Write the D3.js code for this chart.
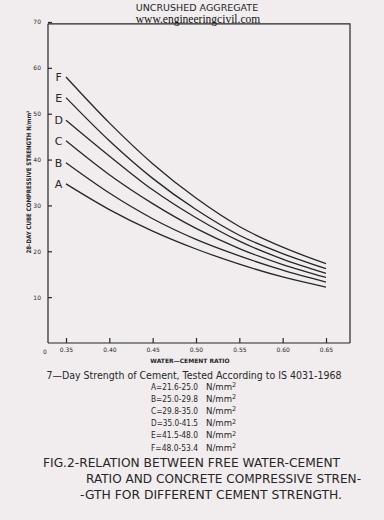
<!DOCTYPE html>
<html>
<head>
<meta charset="utf-8">
<script src="https://cdn.jsdelivr.net/npm/d3@7"></script>
<style>
  html, body { margin: 0; padding: 0; background: #f1edee; }
  svg { display: block; }
</style>
</head>
<body>
<div id="chart"></div>
<script>
// --- data ---
const ratios = [0.35, 0.40, 0.45, 0.50, 0.55, 0.60, 0.65];
const curveA = [34.7, 29.1, 24.4, 20.5, 17.2, 14.4, 12.2];
const curveB = [39.3, 32.7, 27.1, 22.6, 19.0, 15.9, 13.3];
const curveC = [44.1, 36.7, 30.4, 25.0, 20.6, 17.1, 14.3];
const curveD = [48.6, 40.8, 33.4, 27.3, 22.2, 18.3, 15.2];
const curveE = [53.5, 44.1, 35.9, 29.1, 23.5, 19.5, 16.2];
const curveF = [58.0, 48.0, 39.1, 31.6, 25.4, 20.9, 17.3];
const curveNames = ["A", "B", "C", "D", "E", "F"];
const yTicks = [10, 20, 30, 40, 50, 60, 70];
const xTicks = [0.35, 0.40, 0.45, 0.50, 0.55, 0.60, 0.65];
const legendRows = [
  "A=21.6-25.0", "B=25.0-29.8", "C=29.8-35.0",
  "D=35.0-41.5", "E=41.5-48.0", "F=48.0-53.4"
];
const captionRows = [
  "FIG.2-RELATION BETWEEN FREE WATER-CEMENT",
  "RATIO AND CONCRETE  COMPRESSIVE STREN-",
  "-GTH FOR DIFFERENT CEMENT STRENGTH."
];

const W = 384, H = 520;
const ink = "#262626";
const font = "'DejaVu Sans', sans-serif";

const svg = d3.select("#chart").append("svg")
  .attr("width", W).attr("height", H);

// scales (pixel range matched to the scanned frame)
const x = d3.scaleLinear().domain([0.35, 0.65]).range([66, 326]);
const y = d3.scaleLinear().domain([0, 70]).range([343, 22]);
const fLeft = 48, fRight = 350, fTop = y(69.6), fBottom = y(0);

// --- header ---
svg.append("text")
  .attr("x", 197).attr("y", 10.5)
  .attr("text-anchor", "middle")
  .attr("font-family", font).attr("font-size", 9.5)
  .attr("fill", ink)
  .text("UNCRUSHED AGGREGATE");

svg.append("text")
  .attr("x", 198).attr("y", 23.2)
  .attr("text-anchor", "middle")
  .attr("font-family", "'Liberation Serif', serif").attr("font-size", 11.5)
  .attr("fill", "#111")
  .text("www.engineeringcivil.com");

// --- frame ---
svg.append("path")
  .attr("d", `M${fLeft},${fTop}H${fRight}V${fBottom}`)
  .attr("fill", "none").attr("stroke", ink).attr("stroke-width", 1.2);

// axes
const gx = svg.append("g")
  .attr("transform", `translate(0,${fBottom})`)
  .call(d3.axisBottom(x).tickValues(xTicks).tickSizeInner(-5).tickSizeOuter(0)
    .tickPadding(5).tickFormat(d3.format(".2f")));
gx.select(".domain").attr("d", `M${fLeft},0H${fRight}`);

const gy = svg.append("g")
  .attr("transform", `translate(${fLeft},0)`)
  .call(d3.axisLeft(y).tickValues(yTicks).tickSizeInner(-4).tickSizeOuter(0)
    .tickPadding(7));
gy.select(".domain").attr("d", `M0,${fTop}V${fBottom}`);

[gx, gy].forEach(g => {
  g.attr("color", ink);
  g.selectAll(".domain, line").attr("stroke", ink).attr("stroke-width", 1.2);
  g.selectAll("text").attr("font-family", font).attr("font-size", 6)
    .attr("fill", ink);
});

// origin "0"
svg.append("text")
  .attr("x", 45).attr("y", fBottom + 10.5)
  .attr("text-anchor", "middle")
  .attr("font-family", font).attr("font-size", 6).attr("fill", ink)
  .text("0");

// axis titles
svg.append("text")
  .attr("x", 190).attr("y", 363)
  .attr("text-anchor", "middle")
  .attr("font-family", font).attr("font-size", 6).attr("font-weight", "bold")
  .attr("fill", ink)
  .text("WATER\u2014CEMENT RATIO");

svg.append("text")
  .attr("transform", "translate(31,182) rotate(-90)")
  .attr("text-anchor", "middle")
  .attr("font-family", font).attr("font-size", 6.2).attr("font-weight", "bold")
  .attr("fill", ink)
  .attr("textLength", 143).attr("lengthAdjust", "spacingAndGlyphs")
  .text("28-DAY CUBE COMPRESSIVE STRENGTH N/mm\u00B2");

// --- curves ---
const allCurves = [curveA, curveB, curveC, curveD, curveE, curveF];
const series = curveNames.map((name, i) => ({
  name,
  values: ratios.map((r, j) => ({ r, v: allCurves[i][j] }))
}));

const line = d3.line()
  .x(d => x(d.r))
  .y(d => y(d.v))
  .curve(d3.curveMonotoneX);

svg.append("g").selectAll("path")
  .data(series)
  .join("path")
  .attr("d", d => line(d.values))
  .attr("fill", "none")
  .attr("stroke", ink)
  .attr("stroke-width", 1.3);

svg.append("g").selectAll("text")
  .data(series)
  .join("text")
  .attr("x", x(0.3415))
  .attr("y", d => y(d.values[0].v))
  .attr("dy", "0.36em")
  .attr("text-anchor", "middle")
  .attr("font-family", font).attr("font-size", 11)
  .attr("fill", ink)
  .text(d => d.name);

// --- legend block ---
svg.append("text")
  .attr("x", 194).attr("y", 378.5)
  .attr("text-anchor", "middle")
  .attr("font-family", font).attr("font-size", 10)
  .attr("fill", ink)
  .attr("textLength", 295).attr("lengthAdjust", "spacingAndGlyphs")
  .text("7\u2014Day Strength of Cement, Tested According to IS 4031-1968");

const leg = svg.append("g").selectAll("text")
  .data(legendRows)
  .join("text")
  .attr("x", 151)
  .attr("y", (d, i) => 389.5 + i * 12.2)
  .attr("font-family", font).attr("font-size", 8.6)
  .attr("fill", ink);
leg.append("tspan")
  .attr("textLength", 47).attr("lengthAdjust", "spacingAndGlyphs")
  .text(d => d);
leg.append("tspan").attr("x", 206).text("N/mm");
leg.append("tspan").attr("dy", -2.5).attr("font-size", 6.5).text("2");

// --- caption ---
const capX = [43, 86, 80], capW = [297, 275, 262];
svg.append("g").selectAll("text")
  .data(captionRows)
  .join("text")
  .attr("x", (d, i) => capX[i])
  .attr("y", (d, i) => 467 + i * 16)
  .attr("font-family", font).attr("font-size", 13)
  .attr("fill", ink)
  .attr("textLength", (d, i) => capW[i]).attr("lengthAdjust", "spacingAndGlyphs")
  .text(d => d);
</script>
</body>
</html>
